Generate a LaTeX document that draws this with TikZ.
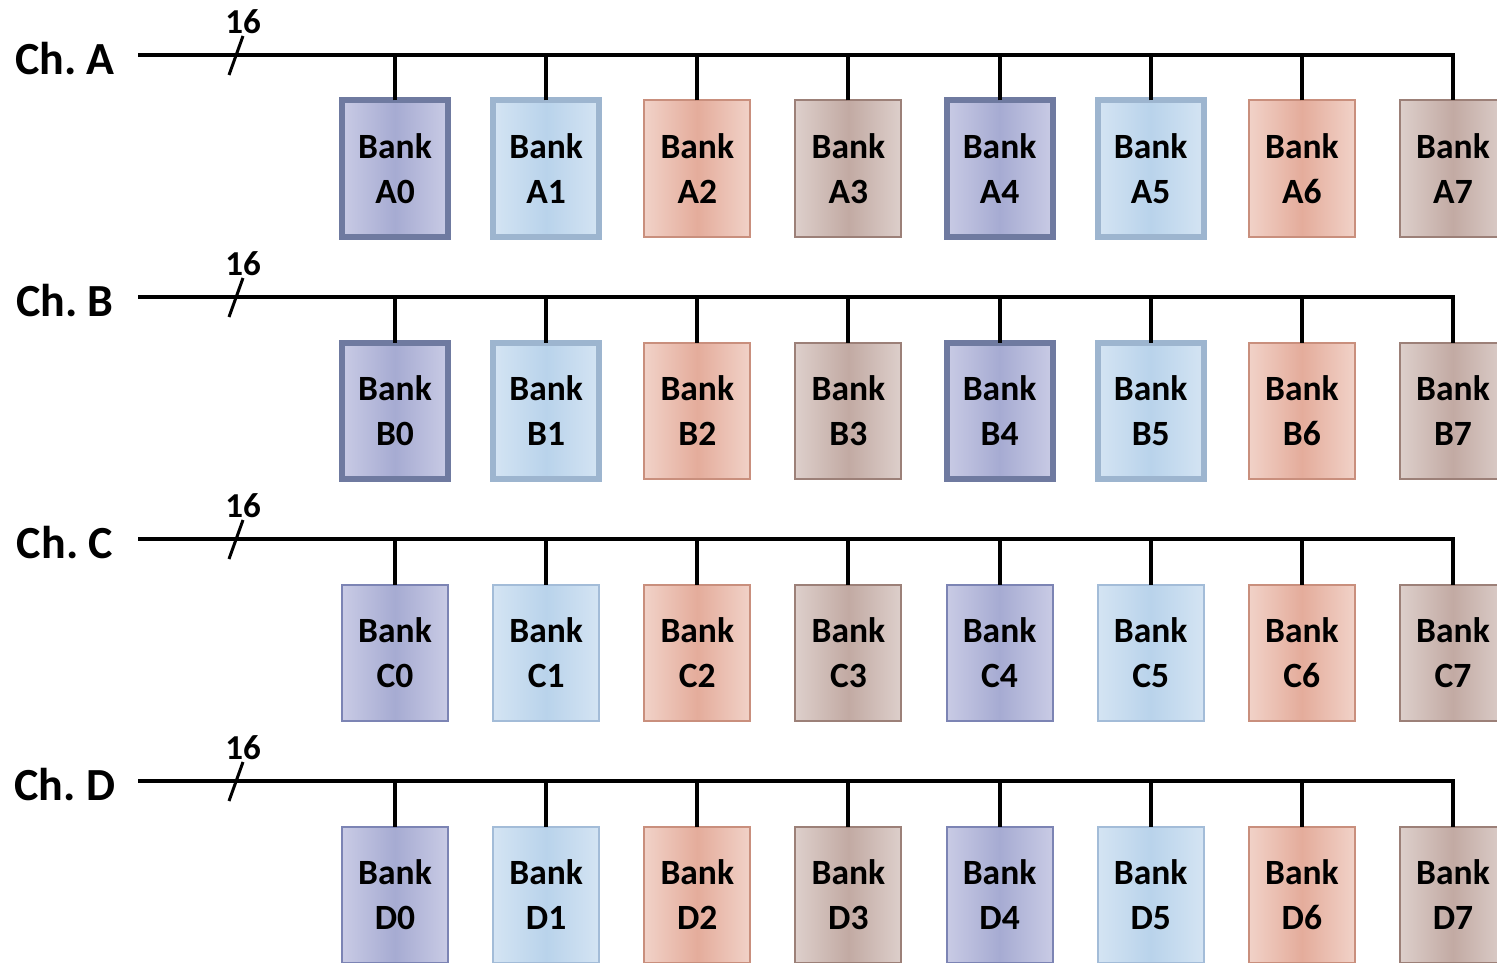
\documentclass[tikz,border=0pt]{standalone}
\usepackage{fontspec}
\setmainfont{Carlito}
\frenchspacing
\definecolor{bpEdge}{HTML}{C9CBE5}
\definecolor{bpMid}{HTML}{A6ABD2}
\definecolor{bpLine}{HTML}{7C84B4}
\definecolor{bpThick}{HTML}{6F7AA0}
\definecolor{bbEdge}{HTML}{D4E4F3}
\definecolor{bbMid}{HTML}{B9D3EB}
\definecolor{bbLine}{HTML}{A3BCD8}
\definecolor{bbThick}{HTML}{9DB5CF}
\definecolor{brEdge}{HTML}{F1D2C8}
\definecolor{brMid}{HTML}{E4AC9B}
\definecolor{brLine}{HTML}{C98F7D}
\definecolor{btEdge}{HTML}{DDCFCB}
\definecolor{btMid}{HTML}{C2AAA3}
\definecolor{btLine}{HTML}{9C8078}
\begin{document}
\begin{tikzpicture}[x=1pt,y=-1pt,
  bank/.style={draw, minimum width=106pt, minimum height=136pt, anchor=north,
    align=center, inner sep=0pt, outer sep=0pt, line width=2pt,
    font=\fontsize{35.5}{45}\selectfont\bfseries},
  bp/.style={draw=bpLine, left color=bpEdge, right color=bpEdge, middle color=bpMid},
  bb/.style={draw=bbLine, left color=bbEdge, right color=bbEdge, middle color=bbMid},
  br/.style={draw=brLine, left color=brEdge, right color=brEdge, middle color=brMid},
  bt/.style={draw=btLine, left color=btEdge, right color=btEdge, middle color=btMid},
  thickbp/.style={draw=bpThick, line width=6pt},
  thickbb/.style={draw=bbThick, line width=6pt},
  bus/.style={line width=4pt},
  chlabel/.style={font=\fontsize{46}{46}\selectfont\bfseries, inner sep=0pt},
  widthlabel/.style={font=\fontsize{35}{35}\selectfont\bfseries, inner sep=0pt},
]
\useasboundingbox (0,0) rectangle (1497,963);
\foreach \r/\t [count=\i from 0] in {A/1,B/1,C/0,D/0} {
  \pgfmathsetmacro\ly{55+242*\i}
  \pgfmathsetmacro\by{\ly+45.5}
  % channel name and bus start
  \node[chlabel] (ch\r) at (65,\ly+4) {Ch.\ \r};
  \coordinate (s\r) at (138,\ly);
  % banks hanging off the bus
  \foreach \c/\s/\k in {0/bp/1,1/bb/1,2/br/0,3/bt/0,4/bp/1,5/bb/1,6/br/0,7/bt/0} {
    \pgfmathtruncatemacro\th{\t*\k}
    \ifnum\th=1
      \node[bank,\s,thick\s] (b\r\c) at (395+151.14*\c,\by) {Bank\\\r\c};
    \else
      \node[bank,\s] (b\r\c) at (395+151.14*\c,\by) {Bank\\\r\c};
    \fi
  }
  \draw[bus] (s\r) -| (b\r7.north);
  \foreach \c in {0,...,6} {
    \draw[bus] (b\r\c.north) -- (b\r\c.north |- s\r);
  }
  % bus width marker
  \draw[line width=3pt] ([shift={(91,20)}]s\r) -- ([shift={(105,-19)}]s\r);
  \node[widthlabel] (w\r) at ([shift={(105,-33)}]s\r) {16};
}
\end{tikzpicture}
\end{document}
